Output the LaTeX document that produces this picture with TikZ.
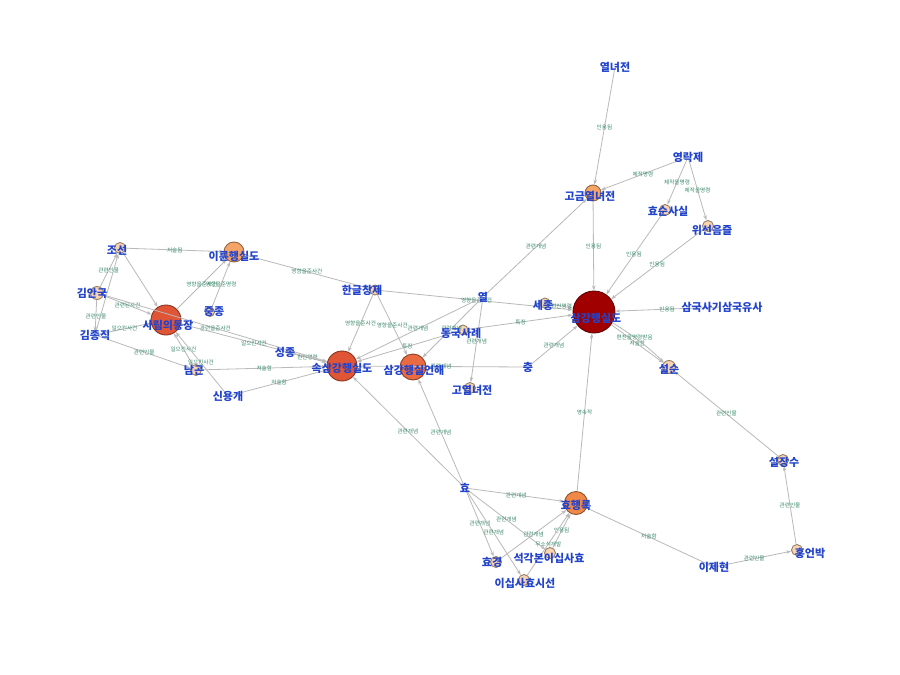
\documentclass[tikz,border=0pt]{standalone}
\usepackage{fontspec}
\newfontfamily\kr{Noto Sans CJK KR}
\usetikzlibrary{arrows.meta}
\definecolor{nblue}{HTML}{2244CC}
\definecolor{egreen}{HTML}{3A8A6A}
\definecolor{ered}{HTML}{A00000}
\definecolor{eor}{HTML}{E05535}
\definecolor{eor2}{HTML}{EA6A42}
\definecolor{eor3}{HTML}{F08848}
\definecolor{epch}{HTML}{F5A468}
\definecolor{epale}{HTML}{F8D4B0}
\tikzset{
 vtx/.style={circle,draw=#1!60!black,line width=0.9pt,inner sep=0pt},
 ghost/.style={circle,inner sep=0pt,minimum size=6pt},
 nlab/.style={font=\kr\bfseries\fontsize{11}{12}\selectfont,text=nblue},
 elab/.style={font=\kr\fontsize{5.6}{6}\selectfont,text=egreen,inner sep=0.5pt},
 edge/.style={draw=gray!55,line width=0.8pt,-{Stealth[length=5pt,width=3.5pt]}},
}
\newcommand{\myV}[6]{\node[vtx=#5,fill=#5,minimum size=#4pt] (#1) at (#2,#3) {};}
\newcommand{\myG}[3]{\node[ghost] (#1) at (#2,#3) {};}
\newcommand{\myL}[4]{\node[nlab] (t#1) at (#2,#3) {#4};}
\newcommand{\myE}[3]{\path[edge] (#1) -- node[elab]{#3} (#2);}
\begin{document}
\begin{tikzpicture}[x=1pt,y=-1pt]
\useasboundingbox (0,0) rectangle (900,675);
\fill[white] (0,0) rectangle (900,675);
% vertices
\myG{yn}{615}{67}
\myV{gg}{593}{193}{16}{epch}{}
\myG{yr}{688}{157}
\myV{hs}{665}{210}{11}{epale}{}
\myV{ws}{708}{226}{11}{epale}{}
\myV{sg}{594}{312}{42}{ered}{}
\myG{sk}{722}{307}
\myV{sj}{545}{303}{10}{epale}{}
\myG{yeol}{483}{297}
\myV{hg}{375}{290}{10}{epale}{}
\myV{dg}{463}{330}{10}{epale}{}
\myV{ss}{342}{366}{30}{eor}{}
\myV{se}{413}{367}{26}{eor2}{}
\myV{gy}{470}{388}{11}{epale}{}
\myG{chung}{528}{367}
\myV{sn}{669}{367}{13}{epale}{}
\myV{sjs}{783}{460}{11}{epale}{}
\myV{hb}{797}{550}{11}{epale}{}
\myG{ij}{714}{567}
\myV{hr}{576}{503}{23}{eor3}{}
\myG{hyo}{465}{488}
\myV{hk}{496}{562}{11}{epale}{}
\myV{sk24}{550}{553}{11}{epale}{}
\myV{is}{524}{580}{11}{epale}{}
\myV{sr}{166}{320}{30}{eor}{}
\myV{ir}{234}{252}{20}{epch}{}
\myV{jo}{120}{248}{11}{epale}{}
\myV{ka}{97}{293}{13}{epale}{}
\myG{kj}{95}{335}
\myV{jj}{210}{312}{9}{epale}{}
\myG{sjong}{285}{352}
\myV{ng}{196}{370}{11}{epale}{}
\myG{sy}{228}{396}
% edges
\myE{yn}{gg}{인용됨}
\myE{yr}{gg}{제작명령}
\myE{yr}{hs}{제작을명령}
\myE{yr}{ws}{제작을명령}
\myE{gg}{sg}{인용됨}
\myE{hs}{sg}{인용됨}
\myE{ws}{sg}{인용됨}
\myE{sk}{sg}{인용됨}
\myE{yeol}{gg}{관련개념}
\myE{hg}{sg}{영향을준사건}
\myE{sj}{sg}{편찬명령}
\myE{dg}{sg}{특징}
\myE{chung}{sg}{관련개념}
\myE{sg}{sn}{저술함}
\path[edge] (sg) to[bend left=6] node[elab,pos=0.4]{편찬을명령받음} (sn);
\myE{sjs}{sn}{관련인물}
\myE{hb}{sjs}{관련인물}
\myE{ij}{hb}{관련인물}
\myE{hr}{ij}{저술함}
\myE{hr}{sg}{영속작}
\myE{hyo}{hr}{관련개념}
\myE{hyo}{hk}{관련개념}
\myE{hyo}{is}{관련개념}
\myE{hyo}{sk24}{관련개념}
\myE{hk}{hr}{관련개념}
\myE{sk24}{hr}{인용됨}
\myE{is}{hr}{무소식개발}
\myE{hyo}{ss}{관련개념}
\myE{hyo}{se}{관련개념}
\myE{yeol}{gy}{관련개념}
\myE{yeol}{ss}{관련개념}
\myE{yeol}{se}{관련개념}
\myE{chung}{ss}{관련개념}
\myE{hg}{ss}{영향을준사건}
\myE{hg}{se}{영향을준사건}
\myE{dg}{ss}{특징}
\myE{ir}{hg}{영향을준사건}
\myE{sjong}{ss}{편찬명령}
\myE{jj}{ir}{영향을준명령}
\myE{sr}{ir}{영향을준사건}
\myE{jo}{ir}{저술됨}
\myE{jo}{sr}{}
\myE{ka}{jo}{관련인물}
\myE{kj}{jo}{}
\myE{ka}{kj}{관련인물}
\myE{ka}{sr}{관련된사건}
\myE{ka}{ss}{관련을준사건}
\myE{kj}{sr}{일으킨사건}
\myE{kj}{ng}{관련인물}
\myE{ng}{sr}{일으킨사건}
\myE{sy}{sr}{일으킨사건}
\myE{ng}{ss}{저술함}
\myE{sy}{ss}{저술함}
\myE{sr}{ss}{일으킨사건}
% labels
\myL{yn}{615}{67}{열녀전}
\myL{gg}{590}{196}{고금열녀전}
\myL{yr}{688}{157}{영락제}
\myL{hs}{668}{211}{효순사실}
\myL{ws}{712}{230}{위선음즐}
\myL{sg}{596}{318}{삼강행실도}
\myL{sk}{722}{307}{삼국사기삼국유사}
\myL{sj}{543}{305}{세종}
\myL{yeol}{483}{297}{열}
\myL{hg}{362}{290}{한글창제}
\myL{dg}{461}{333}{동국사례}
\myL{ss}{342}{368}{속삼강행실도}
\myL{se}{414}{370}{삼강행실언해}
\myL{gy}{472}{390}{고열녀전}
\myL{chung}{528}{367}{충}
\myL{sn}{669}{369}{설순}
\myL{sjs}{784}{462}{설장수}
\myL{hb}{810}{553}{홍언박}
\myL{ij}{714}{567}{이제현}
\myL{hr}{576}{505}{효행록}
\myL{hyo}{465}{488}{효}
\myL{hk}{492}{562}{효경}
\myL{sk24}{549}{558}{석각본이십사효}
\myL{is}{525}{583}{이십사효시선}
\myL{sr}{168}{325}{사림의동장}
\myL{ir}{234}{256}{이륜행실도}
\myL{jo}{117}{250}{조선}
\myL{ka}{92}{293}{김안국}
\myL{kj}{95}{335}{김종직}
\myL{jj}{214}{312}{중종}
\myL{sjong}{285}{352}{성종}
\myL{ng}{194}{370}{남곤}
\myL{sy}{228}{396}{신용개}
\end{tikzpicture}
\end{document}
